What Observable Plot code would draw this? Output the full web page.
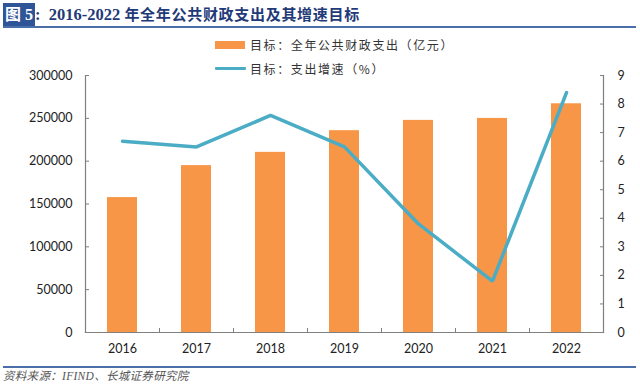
<!DOCTYPE html>
<html><head><meta charset="utf-8">
<script src="https://cdn.jsdelivr.net/npm/d3@7"></script>
<script src="https://cdn.jsdelivr.net/npm/@observablehq/plot@0.6"></script>
<style>
body{margin:0;background:#fff;}
#wrap{position:relative;width:640px;height:389px;overflow:hidden;}
#title{position:absolute;left:3px;top:2px;height:23px;line-height:23px;white-space:nowrap;color:#1F3A78;font-weight:bold;font-family:"Liberation Serif","Noto Sans CJK SC",serif;}
#title .fig{background:#2E5597;color:#fff;display:inline-block;padding:0 2px 0 2px;font-size:16px;height:23px;}
#title .lat{font-size:16.5px;}
#title .cjk{font-size:15px;font-family:"Noto Sans CJK SC",sans-serif;letter-spacing:0.7px;}
#tline{position:absolute;left:3px;top:26px;width:633px;height:2px;background:#4A6FA8;}
#chart{position:absolute;left:0;top:0;}
.leg{position:absolute;left:250px;font-family:"Noto Sans CJK SC",sans-serif;font-size:12px;letter-spacing:1.6px;color:#333;white-space:nowrap;line-height:16px;}
.sw{position:absolute;left:215px;}
#cline{position:absolute;left:3px;top:366px;width:633px;height:2px;background:#4A6FA8;}
#caption{position:absolute;left:3px;top:369px;font-family:"Liberation Serif","Noto Sans CJK SC",serif;font-style:italic;font-size:11.5px;letter-spacing:0.3px;color:#555;white-space:nowrap;line-height:15px;}
</style></head><body>
<div id="wrap">
  <div id="chart"></div>
  <div id="title"><span class="fig">图 5</span><span class="lat">:&nbsp; 2016-2022 </span><span class="cjk">年全年公共财政支出及其增速目标</span></div>
  <div id="tline"></div>
  <div class="sw" style="top:41px;width:30px;height:8px;background:#F79646;"></div>
  <div class="leg" style="top:37px;">目标：全年公共财政支出（亿元）</div>
  <div class="sw" style="top:67px;width:31px;height:3px;background:#4BACC6;border-radius:1px;"></div>
  <div class="leg" style="top:61px;">目标：支出增速（%）</div>
  <div id="cline"></div>
  <div id="caption">资料来源：IFIND、长城证券研究院</div>
</div>
<script>
const years = ["2016","2017","2018","2019","2020","2021","2022"];
const spending = [157500, 194800, 210300, 235600, 247600, 249900, 267000];
const growth = [6.7, 6.5, 7.6, 6.5, 3.8, 1.8, 8.4];
const leftTicks = [0, 50000, 100000, 150000, 200000, 250000, 300000];
const rightTicks = [0, 1, 2, 3, 4, 5, 6, 7, 8, 9];

const leftMax = 300000, rightMax = 9;
const k = leftMax / rightMax;
const table = years.map((y, i) => ({year: y, spending: spending[i], growth: growth[i]}));

const W = 640, H = 389, mL = 85, mR = 37, mT = 75, mB = 57;
const step = (W - mL - mR) / years.length;
const axisColor = "#7f7f7f";

const chart = Plot.plot({
  width: W, height: H,
  marginTop: mT, marginBottom: mB, marginLeft: mL, marginRight: mR,
  x: {type: "band", domain: years, paddingInner: 0.6, paddingOuter: 0.3, label: null},
  y: {domain: [0, leftMax], label: null},
  style: {fontFamily: "Lato, 'Noto Sans', sans-serif", fontSize: "12.5px", color: "#222", background: "transparent"},
  marks: [
    Plot.barY(table, {x: "year", y: "spending", fill: "#F79646"}),
    Plot.lineY(table, {x: "year", y: d => d.growth * k, stroke: "#4BACC6", strokeWidth: 3.5, strokeLinejoin: "miter"}),
    Plot.frame({anchor: "left", stroke: axisColor, strokeWidth: 1.2}),
    Plot.frame({anchor: "right", stroke: axisColor, strokeWidth: 1.2}),
    Plot.frame({anchor: "bottom", stroke: axisColor, strokeWidth: 1.2}),
    Plot.axisY(leftTicks, {anchor: "left", tickSize: -4, text: null, label: null, stroke: axisColor}),
    Plot.axisY(leftTicks, {anchor: "left", tickSize: 0, tickPadding: 13, tickFormat: d => String(d), label: null, fill: "#222"}),
    Plot.axisY(rightTicks.map(v => v * k), {anchor: "right", tickSize: -4, text: null, label: null, stroke: axisColor}),
    Plot.axisY(rightTicks.map(v => v * k), {anchor: "right", tickSize: 0, tickPadding: 14, tickFormat: d => String(Math.round(d / k)), label: null, fill: "#222"}),
    Plot.axisX(years.slice(0, -1), {anchor: "bottom", tickSize: -4, text: null, label: null, dx: step / 2, stroke: axisColor}),
    Plot.axisX({anchor: "bottom", tickSize: 0, tickPadding: 12, label: null, fill: "#222"})
  ]
});
document.getElementById("chart").appendChild(chart);
</script>
</body></html>
